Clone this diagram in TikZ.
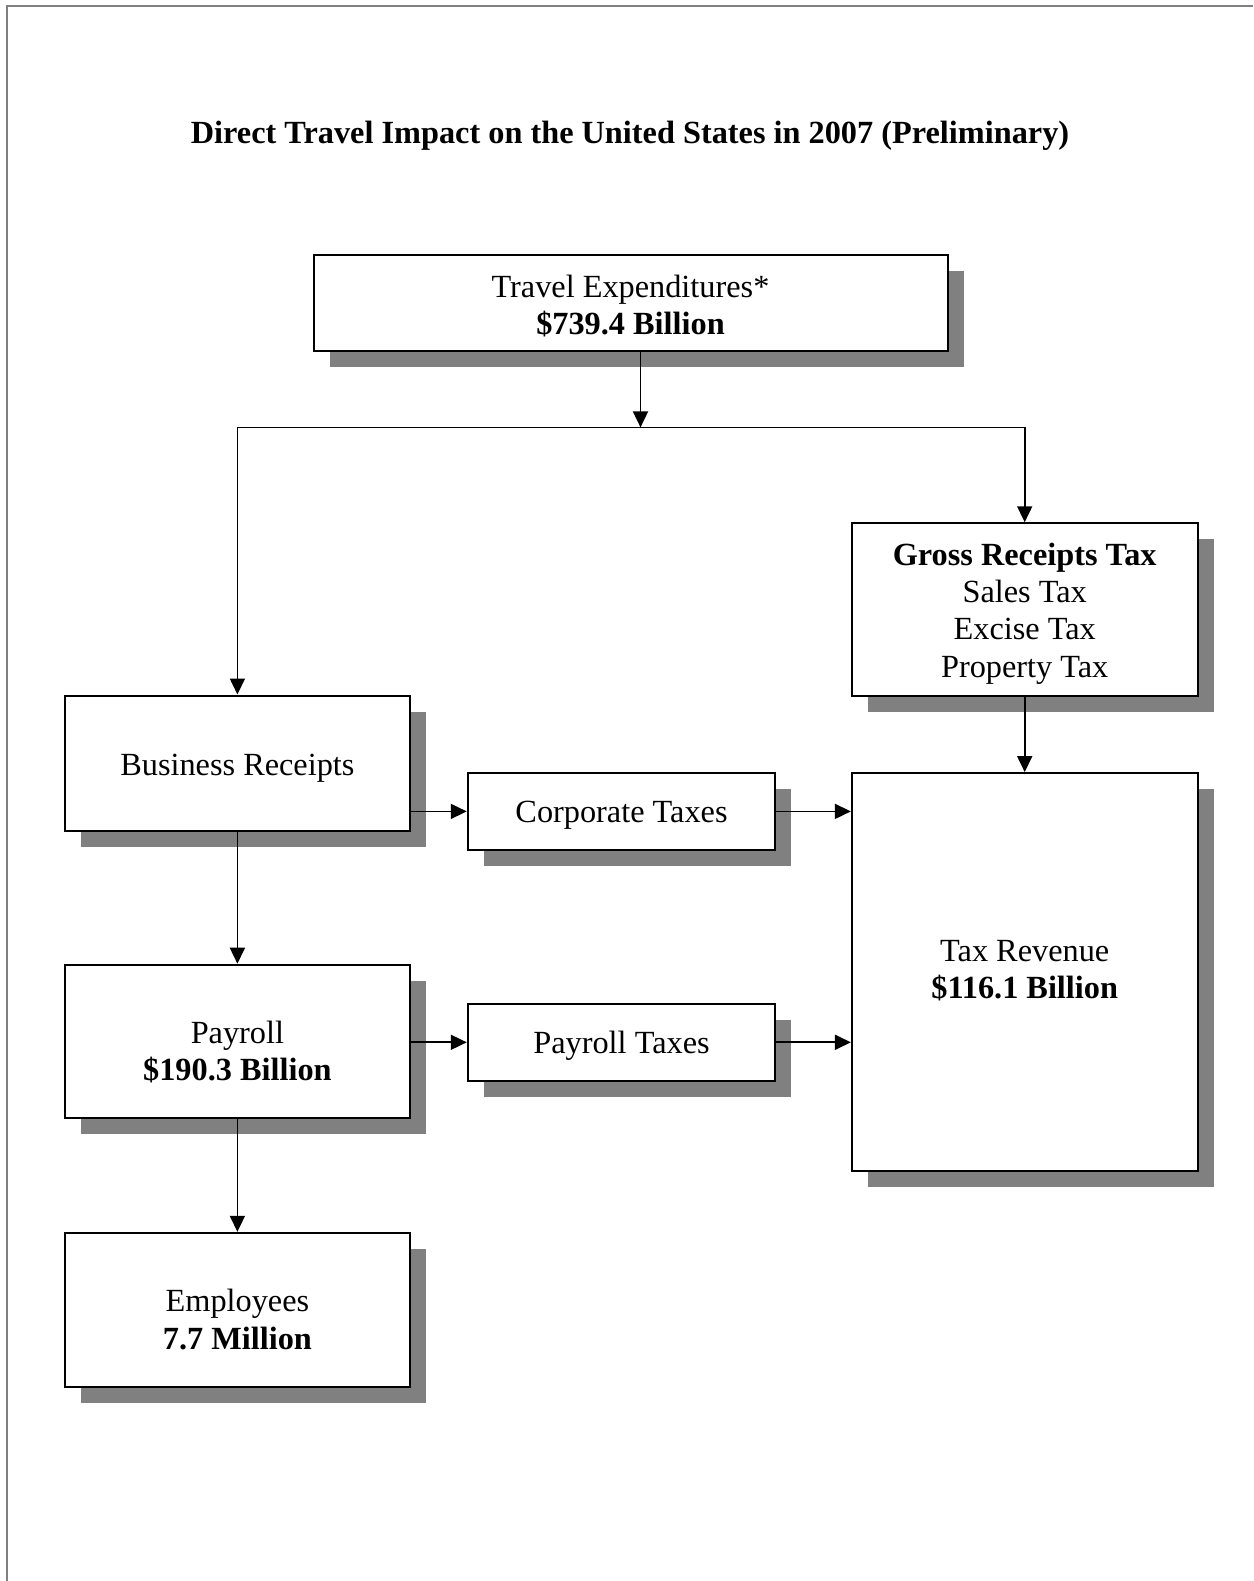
\documentclass[tikz,border=0pt]{standalone}
\usepackage{fontspec}
\setmainfont{Liberation Serif}
\usetikzlibrary{arrows.meta,shadows,calc}
\definecolor{shadowgray}{HTML}{808080}
\begin{document}
\begin{tikzpicture}[x=1pt,y=-1pt,
  box/.style={draw=black, line width=2pt, fill=white, inner sep=0pt,
    drop shadow={shadow xshift=16pt, shadow yshift=-16pt, fill=shadowgray, opacity=1}},
  txt/.style={inner sep=0pt, align=center, font=\fontsize{32.3}{37.3}\selectfont},
  arr/.style={line width=1.8pt, -{Triangle[length=16pt,width=15pt]}},
  ln/.style={line width=1.8pt}]
\useasboundingbox (0,0) rectangle (1253,1581);
\draw[shadowgray, line width=1.8pt] (6.8,1581) -- (6.8,5.7) -- (1253,5.7);

\node[font=\bfseries\fontsize{32.3}{37.3}\selectfont] (title) at (630,136)
  {Direct Travel Impact on the United States in 2007 (Preliminary)};

\node[box, minimum width=634pt, minimum height=96pt] (travel) at (630.5,303) {};
\node[box, minimum width=345.7pt, minimum height=172.3pt] (gross) at (1024.7,609.4) {};
\node[box, minimum width=345.8pt, minimum height=135pt] (br) at (237.4,763) {};
\node[box, minimum width=307.5pt, minimum height=76.6pt] (ct) at (621.5,811.4) {};
\node[box, minimum width=345.7pt, minimum height=398.2pt] (tr) at (1024.7,972.2) {};
\node[box, minimum width=345.8pt, minimum height=153.2pt] (pay) at (237.4,1041.3) {};
\node[box, minimum width=307.5pt, minimum height=76.6pt] (pt) at (621.5,1042.3) {};
\node[box, minimum width=345.8pt, minimum height=154.2pt] (emp) at (237.4,1309.9) {};

\node[txt] (travelt) at ($(travel.center)+(0,3)$) {Travel Expenditures*\\\textbf{\$739.4 Billion}};
\node[txt] (grosst) at ($(gross.center)+(0,4)$) {\textbf{Gross Receipts Tax}\\Sales Tax\\Excise Tax\\Property Tax};
\node[txt] (brt) at ($(br.center)+(0,5)$) {Business Receipts};
\node[txt] (ctt) at ($(ct.center)+(0,4)$) {Corporate Taxes};
\node[txt] (trt) at ($(tr.center)+(0,-1.5)$) {Tax Revenue\\\textbf{\$116.1 Billion}};
\node[txt] (payt) at ($(pay.center)+(0,11)$) {Payroll\\\textbf{\$190.3 Billion}};
\node[txt] (ptt) at ($(pt.center)+(0,3.5)$) {Payroll Taxes};
\node[txt] (empt) at ($(emp.center)+(0,9.5)$) {Employees\\\textbf{7.7 Million}};

\coordinate (split) at (640.5,427.4);
\draw[arr] (travel.south -| split) -- (split);
\draw[ln] (split -| br.north) -- (split -| gross.north);
\draw[arr] (split -| br.north) -- (br.north);
\draw[arr] (split -| gross.north) -- (gross.north);
\draw[arr] (gross.south) -- (tr.north);
\draw[arr] (br.east |- ct.west) -- (ct.west);
\draw[arr] (ct.east) -- (tr.west |- ct.east);
\draw[arr] (br.south) -- (pay.north);
\draw[arr] (pay.east |- pt.west) -- (pt.west);
\draw[arr] (pt.east) -- (tr.west |- pt.east);
\draw[arr] (pay.south) -- (emp.north);
\end{tikzpicture}
\end{document}
